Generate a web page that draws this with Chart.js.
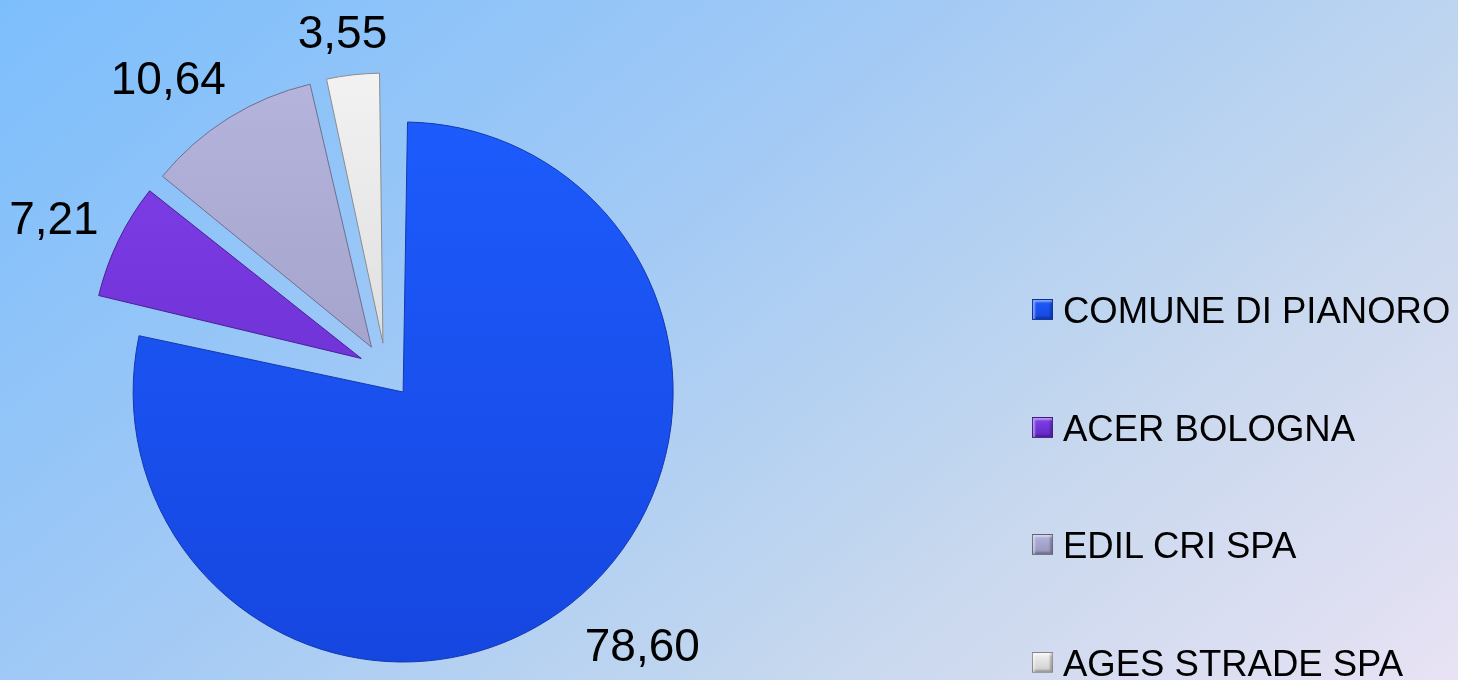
<!DOCTYPE html>
<html>
<head>
<meta charset="utf-8">
<script src="https://cdn.jsdelivr.net/npm/chart.js@4"></script>
<style>
    html, body {
        margin: 0;
        padding: 0;
        width: 1458px;
        height: 680px;
        overflow: hidden;
    }
    body {
        background: linear-gradient(141deg, #7cbefc 0%, #9ec8f6 36%, #bcd4f0 63%, #c8d8ee 72%, #e8e2f4 100%);
        font-family: "Liberation Sans", Arial, sans-serif;
        position: relative;
    }
    #wrap {
        position: absolute;
        left: 0;
        top: 0;
        width: 1458px;
        height: 680px;
    }
    #legend .item {
        position: absolute;
        left: 1032px;
        height: 40px;
        line-height: 40px;
        font-size: 36.5px;
        color: #000;
        white-space: nowrap;
    }
    #legend .box {
        position: absolute;
        left: 0;
        top: 8px;
        width: 21px;
        height: 21px;
        box-sizing: border-box;
        border: 1px solid rgba(0, 0, 0, 0.35);
        box-shadow: inset 2px 2px 2px rgba(255, 255, 255, 0.45), inset -2px -2px 2px rgba(0, 0, 0, 0.25);
    }
    #legend .txt {
        position: absolute;
        left: 31px;
        top: 0;
    }
</style>
</head>
<body>
<div id="wrap"><canvas id="chartCanvas" width="1458" height="680"></canvas></div>
<div id="legend"></div>
<script>
const labels = ['COMUNE DI PIANORO', 'ACER BOLOGNA', 'EDIL CRI SPA', 'AGES STRADE SPA'];
const values = [78.60, 7.21, 10.64, 3.55];

const topColors = ['#1d5bfc', '#8040ea', '#b4b4dc', '#f2f2f2'];
const bottomColors = ['#1646e0', '#6228c6', '#9494bc', '#cdcdcd'];
const edgeColors = ['#1238b0', '#4a1e96', '#6e6e90', '#8c8c8c'];

const PIE_RADIUS = 270;
const EXPLODE = 110; // chart.js moves a slice by offset / 4

function sliceFill(context) {
    const chart = context.chart;
    const area = chart.chartArea;
    const i = context.dataIndex;
    if (!area) return topColors[i];
    const cy = (area.top + area.bottom) / 2;
    const g = chart.ctx.createLinearGradient(0, cy - PIE_RADIUS, 0, cy + PIE_RADIUS);
    g.addColorStop(0, topColors[i]);
    g.addColorStop(1, bottomColors[i]);
    return g;
}

// keep exploded slices at the same radius
const keepRadius = {
    id: 'keepRadius',
    afterDatasetsUpdate(chart) {
        const meta = chart.getDatasetMeta(0);
        meta.data.forEach(arc => {
            const off = (arc.options.offset || 0) / 4;
            const circ = arc.endAngle - arc.startAngle;
            const fix = 1 - Math.sin(Math.min(Math.PI, circ));
            arc.outerRadius = meta.controller.outerRadius - off * fix;
        });
    }
};

const clamp = v => Math.max(-1, Math.min(1, v));

const valueLabels = {
    id: 'valueLabels',
    afterDatasetsDraw(chart) {
        const ctx = chart.ctx;
        const meta = chart.getDatasetMeta(0);
        const R = meta.controller.outerRadius;
        ctx.save();
        ctx.font = '46px "Liberation Sans", Arial, sans-serif';
        ctx.fillStyle = '#000';
        ctx.textAlign = 'center';
        ctx.textBaseline = 'middle';
        meta.data.forEach((arc, i) => {
            const mid = (arc.startAngle + arc.endAngle) / 2;
            const off = (arc.options.offset || 0) / 4;
            const dx = Math.cos(mid), dy = Math.sin(mid);
            const text = values[i].toFixed(2).replace('.', ',');
            const w = ctx.measureText(text).width;
            const h = 46;
            const gap = 22;
            const x = arc.x + dx * (off + R + gap) + clamp(dx * 1.6) * w / 2;
            const y = arc.y + dy * (off + R + gap) + clamp(dy * 1.4) * h / 2;
            ctx.fillText(text, x, y + 5);
        });
        ctx.restore();
    }
};

const ctx = document.getElementById('chartCanvas').getContext('2d');
new Chart(ctx, {
    type: 'pie',
    data: {
        labels: labels,
        datasets: [{
            data: values,
            backgroundColor: sliceFill,
            borderColor: edgeColors,
            borderWidth: 1,
            offset: EXPLODE
        }]
    },
    options: {
        responsive: false,
        animation: false,
        events: [],
        radius: PIE_RADIUS,
        layout: {
            padding: { left: 0, right: 686, top: 61, bottom: 0 }
        },
        plugins: {
            legend: { display: false },
            tooltip: { enabled: false }
        }
    },
    plugins: [keepRadius, valueLabels]
});

const legend = document.getElementById('legend');
labels.forEach((name, i) => {
    const item = document.createElement('div');
    item.className = 'item';
    item.style.top = (291 + i * 117.5) + 'px';
    const box = document.createElement('span');
    box.className = 'box';
    box.style.background = `linear-gradient(180deg, ${topColors[i]}, ${bottomColors[i]})`;
    const txt = document.createElement('span');
    txt.className = 'txt';
    txt.textContent = name;
    item.appendChild(box);
    item.appendChild(txt);
    legend.appendChild(item);
});
</script>
</body>
</html>
